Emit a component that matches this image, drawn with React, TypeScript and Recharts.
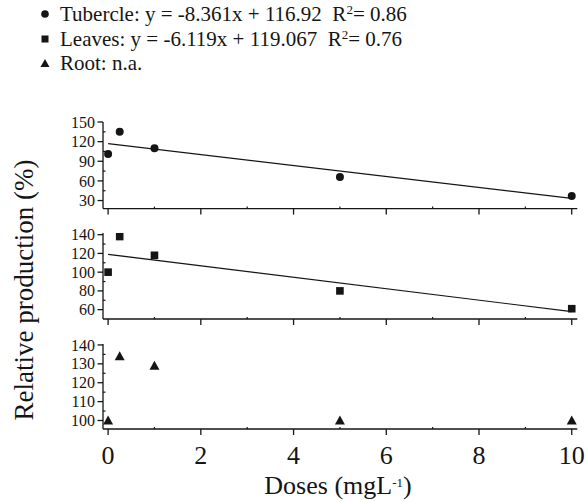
import React from 'react';
import { ScatterChart, Scatter, XAxis, YAxis } from 'recharts';

// doses (mg L-1) and relative production (%)
const doses = [0, 0.25, 1, 5, 10];
const tubercle = [101, 135, 110, 66, 37];
const leaves = [100, 138, 118, 80, 61];
const root = [100, 134, 129, 100, 100];

// regression lines, evaluated at the ends of the dose range
const fitDoses = [0, 10];
const tubercleFit = [116.92, 33.31];
const leavesFit = [119.067, 57.877];

const xTicks = [0, 1, 2, 3, 4, 5, 6, 7, 8, 9, 10];
const xMajor = [0, 2, 4, 6, 8, 10];

const tubercleTicks = [30, 45, 60, 75, 90, 105, 120, 135, 150];
const tubercleMajor = [30, 60, 90, 120, 150];
const leavesTicks = [60, 70, 80, 90, 100, 110, 120, 130, 140];
const leavesMajor = [60, 80, 100, 120, 140];
const rootTicks = [100, 105, 110, 115, 120, 125, 130, 135, 140];
const rootMajor = [100, 110, 120, 130, 140];

const INK = '#151515';
const FONT = "'Liberation Serif', 'Times New Roman', serif";
const AXIS_X = 103;
const TOP_PAD = 10;

const toPoints = (xs: number[], ys: number[]) => xs.map((x, i) => ({ x, y: ys[i] }));

const Dot = (p: any) => <circle cx={p.cx} cy={p.cy} r={4} fill={INK} />;
const Square = (p: any) => <rect x={p.cx - 3.8} y={p.cy - 3.8} width={7.6} height={7.6} fill={INK} />;
const Triangle = (p: any) => (
  <polygon points={`${p.cx},${p.cy - 5} ${p.cx - 5},${p.cy + 4} ${p.cx + 5},${p.cy + 4}`} fill={INK} />
);
const NoMark = () => <g />;

interface PanelProps {
  plotTop: number;
  plotBottom: number;
  domain: [number, number];
  ticks: number[];
  major: number[];
  values: number[];
  shape: (p: any) => React.ReactElement;
  fit?: number[];
  bottom?: boolean;
}

function Panel({ plotTop, plotBottom, domain, ticks, major, values, shape, fit, bottom }: PanelProps) {
  const xh = bottom ? 50 : 10;
  const plotH = plotBottom - plotTop;
  const axisY = TOP_PAD + plotH;
  const height = TOP_PAD + plotH + xh;

  const yTick = (p: any) => {
    const v = p.payload.value;
    const isMajor = major.includes(v);
    return (
      <g>
        {isMajor ? (
          <>
            <line x1={AXIS_X - 5.5} x2={AXIS_X} y1={p.y} y2={p.y} stroke={INK} strokeWidth={1.3} />
            <text x={AXIS_X - 8} y={p.y} dy="0.35em" textAnchor="end" fontSize={16}
              style={{ fontFamily: FONT }} fill={INK}>{v}</text>
          </>
        ) : (
          <line x1={AXIS_X} x2={AXIS_X + 2.5} y1={p.y} y2={p.y} stroke={INK} strokeWidth={1.2} />
        )}
      </g>
    );
  };

  const xTick = (p: any) => {
    const v = p.payload.value;
    const isMajor = xMajor.includes(v);
    return (
      <g>
        {isMajor ? (
          <line x1={p.x} x2={p.x} y1={axisY} y2={axisY + 6} stroke={INK} strokeWidth={1.3} />
        ) : (
          <line x1={p.x} x2={p.x} y1={axisY} y2={axisY - 2} stroke={INK} strokeWidth={1.2} />
        )}
        {bottom && isMajor && (
          <text x={p.x} y={axisY + 35} textAnchor="middle" fontSize={26} style={{ fontFamily: FONT }}
            fill={INK}>{v}</text>
        )}
      </g>
    );
  };

  return (
    <div style={{ position: 'absolute', left: 0, top: plotTop - TOP_PAD }}>
      <ScatterChart width={587} height={height} margin={{ top: TOP_PAD, right: 9.7, bottom: 0, left: 0 }}>
        <XAxis type="number" dataKey="x" domain={[-0.11, 10.12]} ticks={xTicks} interval={0}
          allowDataOverflow tickLine={false} axisLine={{ stroke: INK, strokeWidth: 1.3 }}
          height={xh} tick={xTick} />
        <YAxis type="number" dataKey="y" domain={domain} ticks={ticks} interval={0}
          allowDataOverflow tickLine={false} axisLine={{ stroke: INK, strokeWidth: 1.3 }}
          width={AXIS_X} tick={yTick} />
        {fit && (
          <Scatter data={toPoints(fitDoses, fit)} line={{ stroke: INK, strokeWidth: 1.2 }}
            shape={NoMark} isAnimationActive={false} />
        )}
        <Scatter data={toPoints(doses, values)} shape={shape} isAnimationActive={false} />
      </ScatterChart>
    </div>
  );
}

const legendRow = (top: number, marker: React.ReactNode, content: React.ReactNode) => (
  <div style={{ position: 'absolute', left: 38, top, height: 24, display: 'flex', alignItems: 'center',
    fontFamily: FONT, fontSize: 21, lineHeight: '24px', color: INK, whiteSpace: 'nowrap' }}>
    <svg width={14} height={14} style={{ marginRight: 8 }}>{marker}</svg>
    <span>{content}</span>
  </div>
);

const sup = (s: string) => <sup style={{ fontSize: 13, lineHeight: 0, verticalAlign: '0.55em' }}>{s}</sup>;

export default function App() {
  return (
    <div style={{ position: 'absolute', left: 0, top: 0, width: 587, height: 501, background: '#fff',
      fontFamily: FONT }}>
      {legendRow(2, <circle cx={7} cy={7} r={3.8} fill={INK} />,
        <>Tubercle: y = -8.361x + 116.92&nbsp; R{sup('2')}= 0.86</>)}
      {legendRow(26.5, <rect x={3.5} y={3.5} width={7} height={7} fill={INK} />,
        <>Leaves: y = -6.119x + 119.067&nbsp; R{sup('2')}= 0.76</>)}
      {legendRow(51, <polygon points="7,3 2.5,11 11.5,11" fill={INK} />, <>Root: n.a.</>)}

      <Panel plotTop={121.7} plotBottom={208.3} domain={[17.7, 150]} ticks={tubercleTicks}
        major={tubercleMajor} values={tubercle} shape={Dot} fit={tubercleFit} />
      <Panel plotTop={233.3} plotBottom={319.3} domain={[50, 141.8]} ticks={leavesTicks}
        major={leavesMajor} values={leaves} shape={Square} fit={leavesFit} />
      <Panel plotTop={344} plotBottom={429} domain={[95.5, 140.5]} ticks={rootTicks}
        major={rootMajor} values={root} shape={Triangle} bottom />

      <div style={{ position: 'absolute', left: 24, top: 290, transform: 'translate(-50%, -50%) rotate(-90deg)',
        fontFamily: FONT, fontSize: 27, color: INK, whiteSpace: 'nowrap', lineHeight: 1 }}>
        Relative production (%)
      </div>
      <div style={{ position: 'absolute', left: 338, top: 473, transform: 'translateX(-50%)',
        fontFamily: FONT, fontSize: 26, color: INK, whiteSpace: 'nowrap', lineHeight: 1 }}>
        Doses (mgL{sup('-1')})
      </div>
    </div>
  );
}
